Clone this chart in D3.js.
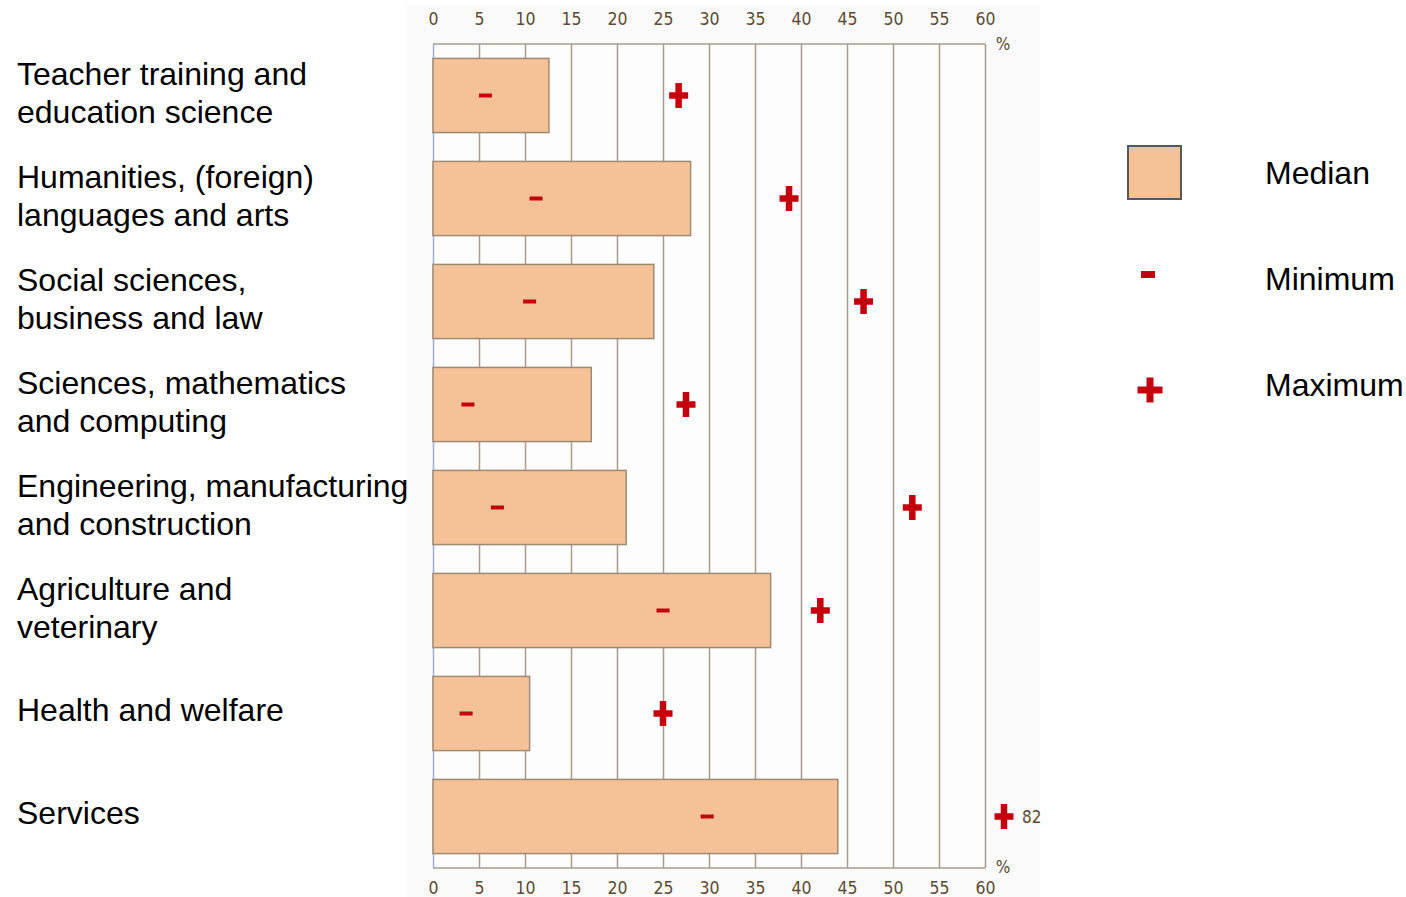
<!DOCTYPE html>
<html><head><meta charset="utf-8">
<script src="https://cdn.jsdelivr.net/npm/d3@7"></script>
<style>
html,body{margin:0;padding:0;background:#fff;}
svg{display:block;}
</style></head>
<body>
<svg id="chart" width="1406" height="897"></svg>
<script>
const categories = [
  ["Teacher training and", "education science"],
  ["Humanities, (foreign)", "languages and arts"],
  ["Social sciences,", "business and law"],
  ["Sciences, mathematics", "and computing"],
  ["Engineering, manufacturing", "and construction"],
  ["Agriculture and", "veterinary"],
  ["Health and welfare"],
  ["Services"]
];
const medianValues  = [12.6, 28.0, 24.0, 17.2, 21.0, 36.7, 10.5, 44.0];
const minimumValues = [5.7, 11.2, 10.5, 3.8, 7.0, 25.0, 3.6, 29.8];
const maximumValues = [26.7, 38.7, 46.8, 27.5, 52.1, 42.1, 25.0, 82];
const tickValues = [0, 5, 10, 15, 20, 25, 30, 35, 40, 45, 50, 55, 60];
const legendLabels = ["Median", "Minimum", "Maximum"];
const unitLabel = "%";

const svg = d3.select("#chart");
const plot = {left: 433, right: 985, top: 44, bottom: 868};
const axisColor = "#a99c8b";
const tickTextColor = "#5c4b32";
const red = "#c4000c";
const tickFont = "'DejaVu Sans Condensed','DejaVu Sans',sans-serif";
const labelFont = "'Liberation Sans', Arial, sans-serif";
const labelSize = 32;

const x = d3.scaleLinear().domain([0, 60]).range([plot.left, plot.right]);
const idx = categories.map((d, i) => i);
const y = d3.scaleBand().domain(idx).range([plot.top, plot.bottom]).paddingInner(0.28).paddingOuter(0.14);

// panel background
svg.append("rect").attr("x", 407).attr("y", 5).attr("width", 633).attr("height", 892).attr("fill", "#fafafa");
svg.append("rect").attr("x", plot.left).attr("y", plot.top).attr("width", plot.right - plot.left)
  .attr("height", plot.bottom - plot.top).attr("fill", "#fdfdfd");

// gridlines via axis
const grid = svg.append("g").attr("transform", `translate(0,${plot.bottom})`)
  .call(d3.axisTop(x).tickValues(tickValues).tickSize(plot.bottom - plot.top).tickFormat(""));
grid.select(".domain").remove();
grid.selectAll(".tick line").attr("stroke", axisColor).attr("stroke-width", 1.5);
grid.selectAll(".tick").filter(d => d === 0).select("line").attr("stroke", "#9fb0d3");

// top & bottom border lines
[plot.top, plot.bottom].forEach(yy => {
  svg.append("line").attr("x1", x(0)).attr("x2", x(60)).attr("y1", yy).attr("y2", yy)
    .attr("stroke", axisColor).attr("stroke-width", 1.5);
});

// tick labels top & bottom
const topAxis = svg.append("g").attr("transform", `translate(0,${plot.top})`)
  .call(d3.axisTop(x).tickValues(tickValues).tickSize(0).tickPadding(19));
const botAxis = svg.append("g").attr("transform", `translate(0,${plot.bottom})`)
  .call(d3.axisBottom(x).tickValues(tickValues).tickSize(0).tickPadding(14));
[topAxis, botAxis].forEach(a => {
  a.select(".domain").remove();
  a.selectAll("text").attr("fill", tickTextColor).attr("font-family", tickFont).attr("font-size", 17.5);
});

// % units
svg.append("text").attr("x", x(60) + 18).attr("y", plot.top + 6).attr("text-anchor", "middle")
  .attr("fill", tickTextColor).attr("font-family", tickFont).attr("font-size", 17).text(unitLabel);
svg.append("text").attr("x", x(60) + 18).attr("y", plot.bottom + 5).attr("text-anchor", "middle")
  .attr("fill", tickTextColor).attr("font-family", tickFont).attr("font-size", 17).text(unitLabel);

// bars
svg.append("g").selectAll("rect").data(medianValues).join("rect")
  .attr("x", x(0)).attr("y", (d, i) => y(i))
  .attr("width", d => x(d) - x(0)).attr("height", y.bandwidth())
  .attr("fill", "#f5c298").attr("stroke", "#9f8b72").attr("stroke-width", 1.5);

// minimum markers
svg.append("g").selectAll("rect").data(minimumValues).join("rect")
  .attr("x", d => x(d) - 6.5).attr("y", (d, i) => y(i) + y.bandwidth() / 2 - 2)
  .attr("width", 13).attr("height", 4).attr("fill", red);

// maximum markers
function plusPath(cx, cy, w, h, t) {
  return `M${cx - t/2},${cy - h/2}h${t}v${h}h${-t}Z M${cx - w/2},${cy - t/2}h${w}v${t}h${-w}Z`;
}
const maxX = d => d > 60 ? x(60) + 19 : x(d);
const maxG = svg.append("g");
maxG.selectAll("path").data(maximumValues).join("path")
  .attr("d", (d, i) => plusPath(maxX(d), y(i) + y.bandwidth() / 2, 19, 25, 6.5))
  .attr("fill", red);
maxG.selectAll("text").data(maximumValues.map((d, i) => ({d, i})).filter(o => o.d > 60)).join("text")
  .attr("x", o => maxX(o.d) + 18).attr("y", o => y(o.i) + y.bandwidth() / 2 + 6)
  .attr("fill", tickTextColor).attr("font-family", tickFont).attr("font-size", 17)
  .text(o => o.d);

// category labels
const lab = svg.append("g").attr("font-family", labelFont).attr("font-size", labelSize).attr("fill", "#000");
categories.forEach((lines, i) => {
  const cy = y(i) + y.bandwidth() / 2;
  const t = lab.append("text").attr("x", 17);
  if (lines.length === 1) {
    t.attr("y", cy + 7).text(lines[0]);
  } else {
    lines.forEach((s, j) => t.append("tspan").attr("x", 17).attr("y", cy - 11 + j * 38.5).text(s));
  }
});

// legend
const lg = svg.append("g");
lg.append("rect").attr("x", 1128).attr("y", 146).attr("width", 53).attr("height", 53)
  .attr("fill", "#f5c298").attr("stroke", "#595959").attr("stroke-width", 2);
lg.append("rect").attr("x", 1141).attr("y", 271).attr("width", 14).attr("height", 7).attr("fill", red);
lg.append("path").attr("d", plusPath(1150, 390, 25, 25, 7)).attr("fill", red);
legendLabels.forEach((s, i) => {
  lg.append("text").attr("x", 1265).attr("y", [184, 290, 396][i])
    .attr("font-family", labelFont).attr("font-size", labelSize).attr("fill", "#000").text(s);
});
</script>
</body></html>
